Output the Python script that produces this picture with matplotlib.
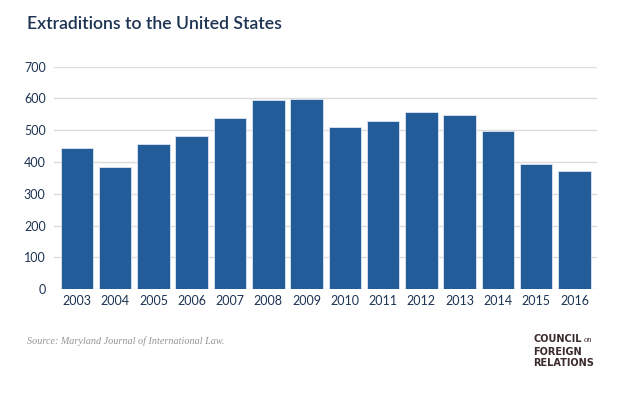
import matplotlib
matplotlib.use("Agg")
import matplotlib.pyplot as plt

years = ["2003", "2004", "2005", "2006", "2007", "2008", "2009",
         "2010", "2011", "2012", "2013", "2014", "2015", "2016"]
extraditions = [444, 383, 457, 483, 537, 596, 598,
                510, 528, 557, 547, 498, 393, 373]
yticks = [0, 100, 200, 300, 400, 500, 600, 700]

navy = "#1d3352"
bar_color = "#225d9a"

plt.rcParams["font.family"] = ["Lato", "DejaVu Sans"]

fig = plt.figure(figsize=(6.19, 3.94), dpi=100)
W, H = 619, 394
ax = fig.add_axes([54 / W, 1 - 289.3 / H, (597 - 54) / W, (289.3 - 66.5) / H])

x = list(range(len(years)))
ax.bar(x, extraditions, width=0.85, color=bar_color,
       edgecolor="#dfe6ef", linewidth=0.6, zorder=3)

ax.set_ylim(0, 700)
ax.set_xlim(-0.6, len(years) - 1 + 0.59)
ax.set_yticks(yticks)
ax.set_xticks(x)
ax.set_xticklabels(years)
ax.grid(axis="y", color="#dcdcdc", linewidth=1.0, zorder=0)
ax.tick_params(axis="both", length=0, labelsize=9, labelcolor=navy)
ax.tick_params(axis="y", pad=6)
ax.tick_params(axis="x", pad=4)
for s in ax.spines.values():
    s.set_visible(False)

fig.text(27 / W, 1 - 24 / H, "Extraditions to the United States",
         fontsize=12.7, color=navy, fontweight=600, va="center", ha="left")

fig.text(27 / W, 1 - 341.5 / H, "Source: Maryland Journal of International Law.",
         fontsize=7.3, color="#959595", style="italic",
         family=["Liberation Serif", "DejaVu Serif"], va="center", ha="left")

# CFR wordmark
logo = "#3b2a2a"
fig.text(533 / W, 1 - 339.3 / H, "COUNCIL", fontsize=7, color=logo,
         fontweight="bold", family=["DejaVu Sans"], va="center", ha="left")
fig.text(584 / W, 1 - 340.5 / H, "on", fontsize=6, color=logo,
         style="italic", family=["Liberation Serif"], va="center", ha="left")
fig.text(533 / W, 1 - 351.7 / H, "FOREIGN", fontsize=7, color=logo,
         fontweight="bold", family=["DejaVu Sans"], va="center", ha="left")
fig.text(533 / W, 1 - 363.3 / H, "RELATIONS", fontsize=7, color=logo,
         fontweight="bold", family=["DejaVu Sans"], va="center", ha="left")

fig.savefig("out.png", dpi=100, facecolor="white")
